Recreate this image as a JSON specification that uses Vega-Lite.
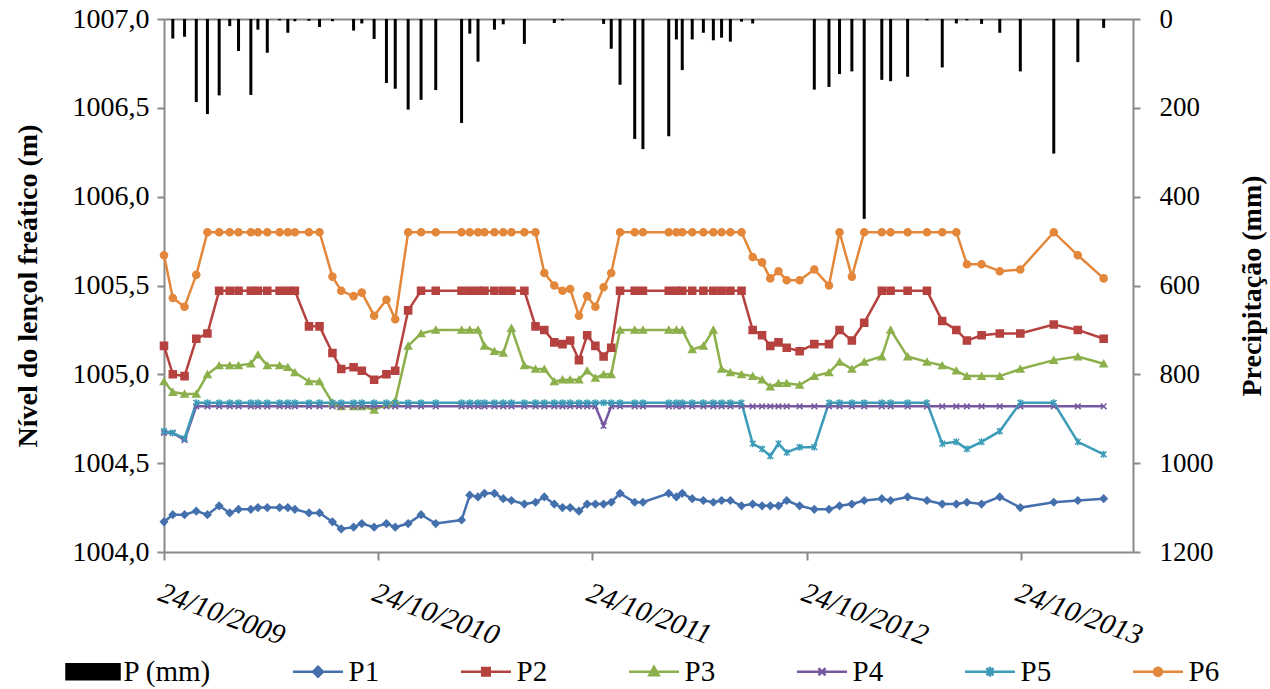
{
  "$schema": "https://vega.github.io/schema/vega-lite/v6.json",
  "width": 969,
  "height": 533,
  "autosize": {"type": "none"},
  "padding": {"left": 164, "top": 19, "right": 137, "bottom": 137},
  "background": "white",
  "config": {
    "font": "Liberation Serif, Times New Roman, serif",
    "view": {"stroke": null},
    "axis": {
      "grid": false,
      "domainColor": "#898989",
      "tickColor": "#898989",
      "domainWidth": 2,
      "tickWidth": 2,
      "labelColor": "black",
      "titleColor": "black",
      "labelFont": "Liberation Serif, Times New Roman, serif",
      "titleFont": "Liberation Serif, Times New Roman, serif"
    },
    "legend": {"labelFont": "Liberation Serif, Times New Roman, serif"}
  },
  "data": {
    "values": [
      {"d":"2009-10-24","P":0,"P1":1004.17,"P2":1005.16,"P3":1004.96,"P4":1004.67,"P5":1004.68,"P6":1005.67},
      {"d":"2009-11-08","P":44,"P1":1004.21,"P2":1005.00,"P3":1004.90,"P4":1004.67,"P5":1004.67,"P6":1005.43},
      {"d":"2009-11-28","P":40,"P1":1004.21,"P2":1004.99,"P3":1004.89,"P4":1004.63,"P5":1004.64,"P6":1005.38},
      {"d":"2009-12-18","P":187,"P1":1004.23,"P2":1005.20,"P3":1004.89,"P4":1004.82,"P5":1004.84,"P6":1005.56},
      {"d":"2010-01-06","P":214,"P1":1004.21,"P2":1005.23,"P3":1005.00,"P4":1004.82,"P5":1004.84,"P6":1005.80},
      {"d":"2010-01-26","P":172,"P1":1004.26,"P2":1005.47,"P3":1005.05,"P4":1004.82,"P5":1004.84,"P6":1005.80},
      {"d":"2010-02-13","P":16,"P1":1004.22,"P2":1005.47,"P3":1005.05,"P4":1004.82,"P5":1004.84,"P6":1005.80},
      {"d":"2010-02-28","P":72,"P1":1004.24,"P2":1005.47,"P3":1005.05,"P4":1004.82,"P5":1004.84,"P6":1005.80},
      {"d":"2010-03-21","P":171,"P1":1004.24,"P2":1005.47,"P3":1005.06,"P4":1004.82,"P5":1004.84,"P6":1005.80},
      {"d":"2010-04-02","P":24,"P1":1004.25,"P2":1005.47,"P3":1005.11,"P4":1004.82,"P5":1004.84,"P6":1005.80},
      {"d":"2010-04-18","P":76,"P1":1004.25,"P2":1005.47,"P3":1005.05,"P4":1004.82,"P5":1004.84,"P6":1005.80},
      {"d":"2010-05-09","P":3,"P1":1004.25,"P2":1005.47,"P3":1005.05,"P4":1004.82,"P5":1004.84,"P6":1005.80},
      {"d":"2010-05-23","P":31,"P1":1004.25,"P2":1005.47,"P3":1005.04,"P4":1004.82,"P5":1004.84,"P6":1005.80},
      {"d":"2010-06-04","P":5,"P1":1004.24,"P2":1005.47,"P3":1005.01,"P4":1004.82,"P5":1004.84,"P6":1005.80},
      {"d":"2010-06-28","P":4,"P1":1004.22,"P2":1005.27,"P3":1004.96,"P4":1004.82,"P5":1004.84,"P6":1005.80},
      {"d":"2010-07-16","P":18,"P1":1004.22,"P2":1005.27,"P3":1004.96,"P4":1004.82,"P5":1004.84,"P6":1005.80},
      {"d":"2010-08-07","P":5,"P1":1004.17,"P2":1005.12,"P3":1004.84,"P4":1004.82,"P5":1004.84,"P6":1005.55},
      {"d":"2010-08-22","P":0,"P1":1004.13,"P2":1005.03,"P3":1004.82,"P4":1004.82,"P5":1004.84,"P6":1005.47},
      {"d":"2010-09-12","P":26,"P1":1004.14,"P2":1005.04,"P3":1004.82,"P4":1004.82,"P5":1004.84,"P6":1005.44},
      {"d":"2010-09-26","P":10,"P1":1004.16,"P2":1005.02,"P3":1004.82,"P4":1004.82,"P5":1004.84,"P6":1005.46},
      {"d":"2010-10-17","P":45,"P1":1004.14,"P2":1004.97,"P3":1004.80,"P4":1004.82,"P5":1004.84,"P6":1005.33},
      {"d":"2010-11-07","P":144,"P1":1004.16,"P2":1005.00,"P3":1004.83,"P4":1004.82,"P5":1004.84,"P6":1005.42},
      {"d":"2010-11-22","P":157,"P1":1004.14,"P2":1005.02,"P3":1004.85,"P4":1004.82,"P5":1004.84,"P6":1005.31},
      {"d":"2010-12-14","P":204,"P1":1004.16,"P2":1005.36,"P3":1005.16,"P4":1004.82,"P5":1004.84,"P6":1005.80},
      {"d":"2011-01-05","P":182,"P1":1004.21,"P2":1005.47,"P3":1005.23,"P4":1004.82,"P5":1004.84,"P6":1005.80},
      {"d":"2011-01-30","P":160,"P1":1004.16,"P2":1005.47,"P3":1005.25,"P4":1004.82,"P5":1004.84,"P6":1005.80},
      {"d":"2011-03-15","P":234,"P1":1004.18,"P2":1005.47,"P3":1005.25,"P4":1004.82,"P5":1004.84,"P6":1005.80},
      {"d":"2011-03-29","P":33,"P1":1004.32,"P2":1005.47,"P3":1005.25,"P4":1004.82,"P5":1004.84,"P6":1005.80},
      {"d":"2011-04-12","P":96,"P1":1004.31,"P2":1005.47,"P3":1005.25,"P4":1004.82,"P5":1004.84,"P6":1005.80},
      {"d":"2011-04-23","P":0,"P1":1004.33,"P2":1005.47,"P3":1005.16,"P4":1004.82,"P5":1004.84,"P6":1005.80},
      {"d":"2011-05-10","P":24,"P1":1004.33,"P2":1005.47,"P3":1005.13,"P4":1004.82,"P5":1004.84,"P6":1005.80},
      {"d":"2011-05-25","P":12,"P1":1004.30,"P2":1005.47,"P3":1005.12,"P4":1004.82,"P5":1004.84,"P6":1005.80},
      {"d":"2011-06-08","P":0,"P1":1004.29,"P2":1005.47,"P3":1005.26,"P4":1004.82,"P5":1004.84,"P6":1005.80},
      {"d":"2011-06-30","P":56,"P1":1004.27,"P2":1005.47,"P3":1005.05,"P4":1004.82,"P5":1004.84,"P6":1005.80},
      {"d":"2011-07-19","P":0,"P1":1004.28,"P2":1005.27,"P3":1005.03,"P4":1004.82,"P5":1004.84,"P6":1005.80},
      {"d":"2011-08-03","P":0,"P1":1004.31,"P2":1005.25,"P3":1005.03,"P4":1004.82,"P5":1004.84,"P6":1005.57},
      {"d":"2011-08-20","P":9,"P1":1004.27,"P2":1005.18,"P3":1004.96,"P4":1004.82,"P5":1004.84,"P6":1005.50},
      {"d":"2011-09-03","P":3,"P1":1004.25,"P2":1005.17,"P3":1004.97,"P4":1004.82,"P5":1004.84,"P6":1005.47},
      {"d":"2011-09-16","P":0,"P1":1004.25,"P2":1005.19,"P3":1004.97,"P4":1004.82,"P5":1004.84,"P6":1005.48},
      {"d":"2011-10-01","P":0,"P1":1004.23,"P2":1005.08,"P3":1004.97,"P4":1004.82,"P5":1004.84,"P6":1005.33},
      {"d":"2011-10-15","P":0,"P1":1004.27,"P2":1005.22,"P3":1005.02,"P4":1004.82,"P5":1004.84,"P6":1005.44},
      {"d":"2011-10-29","P":0,"P1":1004.27,"P2":1005.16,"P3":1004.98,"P4":1004.82,"P5":1004.84,"P6":1005.38},
      {"d":"2011-11-12","P":11,"P1":1004.27,"P2":1005.10,"P3":1005.00,"P4":1004.71,"P5":1004.84,"P6":1005.49},
      {"d":"2011-11-25","P":67,"P1":1004.28,"P2":1005.15,"P3":1005.00,"P4":1004.82,"P5":1004.84,"P6":1005.57},
      {"d":"2011-12-10","P":148,"P1":1004.33,"P2":1005.47,"P3":1005.25,"P4":1004.82,"P5":1004.84,"P6":1005.80},
      {"d":"2012-01-04","P":270,"P1":1004.28,"P2":1005.47,"P3":1005.25,"P4":1004.82,"P5":1004.84,"P6":1005.80},
      {"d":"2012-01-18","P":293,"P1":1004.28,"P2":1005.47,"P3":1005.25,"P4":1004.82,"P5":1004.84,"P6":1005.80},
      {"d":"2012-03-02","P":264,"P1":1004.33,"P2":1005.47,"P3":1005.25,"P4":1004.82,"P5":1004.84,"P6":1005.80},
      {"d":"2012-03-15","P":46,"P1":1004.31,"P2":1005.47,"P3":1005.25,"P4":1004.82,"P5":1004.84,"P6":1005.80},
      {"d":"2012-03-25","P":115,"P1":1004.33,"P2":1005.47,"P3":1005.25,"P4":1004.82,"P5":1004.84,"P6":1005.80},
      {"d":"2012-04-11","P":46,"P1":1004.30,"P2":1005.47,"P3":1005.14,"P4":1004.82,"P5":1004.84,"P6":1005.80},
      {"d":"2012-04-30","P":31,"P1":1004.29,"P2":1005.47,"P3":1005.16,"P4":1004.82,"P5":1004.84,"P6":1005.80},
      {"d":"2012-05-17","P":48,"P1":1004.28,"P2":1005.47,"P3":1005.25,"P4":1004.82,"P5":1004.84,"P6":1005.80},
      {"d":"2012-05-31","P":42,"P1":1004.29,"P2":1005.47,"P3":1005.03,"P4":1004.82,"P5":1004.84,"P6":1005.80},
      {"d":"2012-06-15","P":51,"P1":1004.29,"P2":1005.47,"P3":1005.01,"P4":1004.82,"P5":1004.84,"P6":1005.80},
      {"d":"2012-07-04","P":6,"P1":1004.26,"P2":1005.47,"P3":1005.00,"P4":1004.82,"P5":1004.84,"P6":1005.80},
      {"d":"2012-07-23","P":10,"P1":1004.27,"P2":1005.25,"P3":1004.99,"P4":1004.82,"P5":1004.61,"P6":1005.66},
      {"d":"2012-08-08","P":0,"P1":1004.26,"P2":1005.22,"P3":1004.97,"P4":1004.82,"P5":1004.58,"P6":1005.63},
      {"d":"2012-08-22","P":0,"P1":1004.26,"P2":1005.16,"P3":1004.93,"P4":1004.82,"P5":1004.54,"P6":1005.54},
      {"d":"2012-09-05","P":0,"P1":1004.26,"P2":1005.18,"P3":1004.95,"P4":1004.82,"P5":1004.61,"P6":1005.58},
      {"d":"2012-09-19","P":0,"P1":1004.29,"P2":1005.15,"P3":1004.95,"P4":1004.82,"P5":1004.56,"P6":1005.53},
      {"d":"2012-10-11","P":0,"P1":1004.26,"P2":1005.13,"P3":1004.94,"P4":1004.82,"P5":1004.59,"P6":1005.53},
      {"d":"2012-11-05","P":159,"P1":1004.24,"P2":1005.17,"P3":1004.99,"P4":1004.82,"P5":1004.59,"P6":1005.59},
      {"d":"2012-11-30","P":153,"P1":1004.24,"P2":1005.17,"P3":1005.01,"P4":1004.82,"P5":1004.84,"P6":1005.50},
      {"d":"2012-12-18","P":124,"P1":1004.26,"P2":1005.25,"P3":1005.07,"P4":1004.82,"P5":1004.84,"P6":1005.80},
      {"d":"2013-01-08","P":118,"P1":1004.27,"P2":1005.19,"P3":1005.03,"P4":1004.82,"P5":1004.84,"P6":1005.55},
      {"d":"2013-01-29","P":450,"P1":1004.29,"P2":1005.29,"P3":1005.07,"P4":1004.82,"P5":1004.84,"P6":1005.80},
      {"d":"2013-02-28","P":137,"P1":1004.30,"P2":1005.47,"P3":1005.10,"P4":1004.82,"P5":1004.84,"P6":1005.80},
      {"d":"2013-03-15","P":140,"P1":1004.29,"P2":1005.47,"P3":1005.25,"P4":1004.82,"P5":1004.84,"P6":1005.80},
      {"d":"2013-04-13","P":130,"P1":1004.31,"P2":1005.47,"P3":1005.10,"P4":1004.82,"P5":1004.84,"P6":1005.80},
      {"d":"2013-05-16","P":3,"P1":1004.29,"P2":1005.47,"P3":1005.07,"P4":1004.82,"P5":1004.84,"P6":1005.80},
      {"d":"2013-06-11","P":109,"P1":1004.27,"P2":1005.30,"P3":1005.05,"P4":1004.82,"P5":1004.61,"P6":1005.80},
      {"d":"2013-07-05","P":10,"P1":1004.27,"P2":1005.25,"P3":1005.02,"P4":1004.82,"P5":1004.62,"P6":1005.80},
      {"d":"2013-07-23","P":3,"P1":1004.28,"P2":1005.19,"P3":1004.99,"P4":1004.82,"P5":1004.58,"P6":1005.62},
      {"d":"2013-08-17","P":11,"P1":1004.27,"P2":1005.22,"P3":1004.99,"P4":1004.82,"P5":1004.62,"P6":1005.62},
      {"d":"2013-09-17","P":31,"P1":1004.31,"P2":1005.23,"P3":1004.99,"P4":1004.82,"P5":1004.68,"P6":1005.58},
      {"d":"2013-10-22","P":118,"P1":1004.25,"P2":1005.23,"P3":1005.03,"P4":1004.82,"P5":1004.84,"P6":1005.59},
      {"d":"2013-12-18","P":303,"P1":1004.28,"P2":1005.28,"P3":1005.08,"P4":1004.82,"P5":1004.84,"P6":1005.80},
      {"d":"2014-01-28","P":97,"P1":1004.29,"P2":1005.25,"P3":1005.10,"P4":1004.82,"P5":1004.62,"P6":1005.67},
      {"d":"2014-03-13","P":20,"P1":1004.30,"P2":1005.20,"P3":1005.06,"P4":1004.82,"P5":1004.55,"P6":1005.54}
    ]
  },
  "layer": [
    {
      "mark": {"type": "rule", "strokeWidth": 3, "strokeCap": "butt"},
      "encoding": {
        "x": {
          "field": "d", "type": "temporal",
          "scale": {"type": "utc", "domain": [{"year": 2009, "month": 10, "date": 24, "utc": true}, {"year": 2014, "month": 5, "date": 2, "utc": true}]},
          "axis": {"orient": "top", "labels": false, "ticks": false, "title": null, "domain": true}
        },
        "y": {
          "field": "P", "type": "quantitative",
          "scale": {"domain": [0, 1200], "reverse": true, "nice": false, "zero": true},
          "axis": {
            "orient": "right", "values": [0, 200, 400, 600, 800, 1000, 1200], "format": "d",
            "tickSize": 7, "labelPadding": 19, "labelFontSize": 27, "labelAlign": "left",
            "labelFont": "Liberation Serif, Times New Roman, serif",
            "title": "Precipitação (mm)", "titleFontSize": 28, "titleFontWeight": "bold",
            "titleFont": "Liberation Serif, Times New Roman, serif",
            "titleAngle": 270, "titleX": 119, "titleBaseline": "middle", "titleAlign": "center"
          }
        },
        "y2": {"datum": 0},
        "color": {
          "datum": "P (mm)",
          "scale": {"domain": ["P (mm)", "P1", "P2", "P3", "P4", "P5", "P6"], "range": ["#000000", "#4470AD", "#B5423F", "#8CB04B", "#7658A0", "#3B9BB8", "#E3873B"]},
          "legend": {
            "orient": "none", "legendX": -97.5, "legendY": 626, "direction": "horizontal", "columns": 7,
            "columnPadding": 76, "title": null, "symbolSize": 2500, "symbolStrokeWidth": 2.5,
            "labelFont": "Liberation Serif, Times New Roman, serif", "labelFontSize": 29, "labelColor": "black", "labelOffset": 4,
            "padding": 0, "symbolOpacity": 1,
            "encode": {"symbols": {"update": {
              "shape": {"signal": "datum.value === 'P (mm)' ? 'M-1.06,-0.3H1.06V0.3H-1.06Z' : datum.value === 'P1' ? 'M-1,0H1M0,-0.2L0.2,0L0,0.2L-0.2,0Z' : datum.value === 'P2' ? 'M-1,0H1M-0.15,-0.15H0.15V0.15H-0.15Z' : datum.value === 'P3' ? 'M-1,0H1M0,-0.2L0.19,0.14H-0.19Z' : datum.value === 'P4' ? 'M-1,0H1M-0.14,-0.14L0.14,0.14M-0.14,0.14L0.14,-0.14' : datum.value === 'P5' ? 'M-1,0H1M-0.14,-0.14L0.14,0.14M-0.14,0.14L0.14,-0.14M0,-0.2V0.2' : 'M-1,0H1M0.16,0A0.16,0.16,0,1,1,-0.16,0A0.16,0.16,0,1,1,0.16,0Z'"},
              "fill": {"signal": "scale('color', datum.value)"},
              "stroke": {"signal": "scale('color', datum.value)"}
            }}}
          }
        }
      }
    },
    {
      "transform": [{"fold": ["P1", "P2", "P3", "P4", "P5", "P6"], "as": ["s", "v"]}],
      "layer": [
        {
          "mark": {"type": "line", "strokeWidth": 2.5},
          "encoding": {
            "x": {
              "field": "d", "type": "temporal",
              "axis": {
                "orient": "bottom", "title": null, "format": "%d/%m/%Y",
                "values": [
                  {"year": 2009, "month": 10, "date": 24, "utc": true},
                  {"year": 2010, "month": 10, "date": 24, "utc": true},
                  {"year": 2011, "month": 10, "date": 24, "utc": true},
                  {"year": 2012, "month": 10, "date": 24, "utc": true},
                  {"year": 2013, "month": 10, "date": 24, "utc": true}
                ],
                "labelAngle": 20, "labelAlign": "left", "labelBaseline": "top", "labelFontStyle": "italic",
                "labelFont": "Liberation Serif, Times New Roman, serif",
                "labelFontSize": 29, "tickSize": 8, "labelPadding": 18, "labelFlush": false, "labelOverlap": false
              }
            },
            "y": {
              "field": "v", "type": "quantitative",
              "scale": {"domain": [1004, 1007], "nice": false, "zero": false},
              "axis": {
                "orient": "left", "values": [1004, 1004.5, 1005, 1005.5, 1006, 1006.5, 1007],
                "labelExpr": "replace(format(datum.value, '.1f'), '.', ',')",
                "labelFont": "Liberation Serif, Times New Roman, serif",
                "tickSize": 7, "labelPadding": 8, "labelFontSize": 28,
                "title": "Nível do lençol freático (m)", "titleFontSize": 28, "titleFontWeight": "bold",
                "titleFont": "Liberation Serif, Times New Roman, serif",
                "titleX": -136, "titleBaseline": "middle", "titleAlign": "center"
              }
            },
            "color": {
              "field": "s", "type": "nominal",
              "scale": {"domain": ["P (mm)", "P1", "P2", "P3", "P4", "P5", "P6"], "range": ["#000000", "#4470AD", "#B5423F", "#8CB04B", "#7658A0", "#3B9BB8", "#E3873B"]},
              "legend": {
                "orient": "none", "legendX": -97.5, "legendY": 626, "direction": "horizontal", "columns": 7,
                "columnPadding": 76, "title": null, "symbolSize": 2500, "symbolStrokeWidth": 2.5,
                "labelFont": "Liberation Serif, Times New Roman, serif", "labelFontSize": 29, "labelColor": "black", "labelOffset": 4,
                "padding": 0, "symbolOpacity": 1,
                "encode": {"symbols": {"update": {
                  "shape": {"signal": "datum.value === 'P (mm)' ? 'M-1.06,-0.3H1.06V0.3H-1.06Z' : datum.value === 'P1' ? 'M-1,0H1M0,-0.2L0.2,0L0,0.2L-0.2,0Z' : datum.value === 'P2' ? 'M-1,0H1M-0.15,-0.15H0.15V0.15H-0.15Z' : datum.value === 'P3' ? 'M-1,0H1M0,-0.2L0.19,0.14H-0.19Z' : datum.value === 'P4' ? 'M-1,0H1M-0.14,-0.14L0.14,0.14M-0.14,0.14L0.14,-0.14' : datum.value === 'P5' ? 'M-1,0H1M-0.14,-0.14L0.14,0.14M-0.14,0.14L0.14,-0.14M0,-0.2V0.2' : 'M-1,0H1M0.16,0A0.16,0.16,0,1,1,-0.16,0A0.16,0.16,0,1,1,0.16,0Z'"},
                  "fill": {"signal": "scale('color', datum.value)"},
                  "stroke": {"signal": "scale('color', datum.value)"}
                }}}
              }
            }
          }
        },
        {
          "mark": {"type": "point", "filled": true, "size": 50, "strokeWidth": 1.5, "opacity": 1},
          "encoding": {
            "x": {"field": "d", "type": "temporal"},
            "y": {"field": "v", "type": "quantitative"},
            "fill": {
              "field": "s", "type": "nominal",
              "scale": {"domain": ["P1", "P2", "P3", "P4", "P5", "P6"], "range": ["#4470AD", "#B5423F", "#8CB04B", "#7658A0", "#3B9BB8", "#E3873B"]},
              "legend": null
            },
            "stroke": {
              "field": "s", "type": "nominal",
              "scale": {"domain": ["P1", "P2", "P3", "P4", "P5", "P6"], "range": ["#4470AD", "#B5423F", "#8CB04B", "#7658A0", "#3B9BB8", "#E3873B"]},
              "legend": null
            },
            "shape": {
              "field": "s", "type": "nominal",
              "scale": {"domain": ["P1", "P2", "P3", "P4", "P5", "P6"], "range": ["diamond", "square", "triangle-up", "M-0.8,-0.8L0.8,0.8M-0.8,0.8L0.8,-0.8", "M-0.8,-0.8L0.8,0.8M-0.8,0.8L0.8,-0.8M0,-1V1", "circle"]},
              "legend": null
            }
          }
        }
      ]
    }
  ],
  "resolve": {"scale": {"y": "independent"}, "axis": {"x": "independent"}}
}
